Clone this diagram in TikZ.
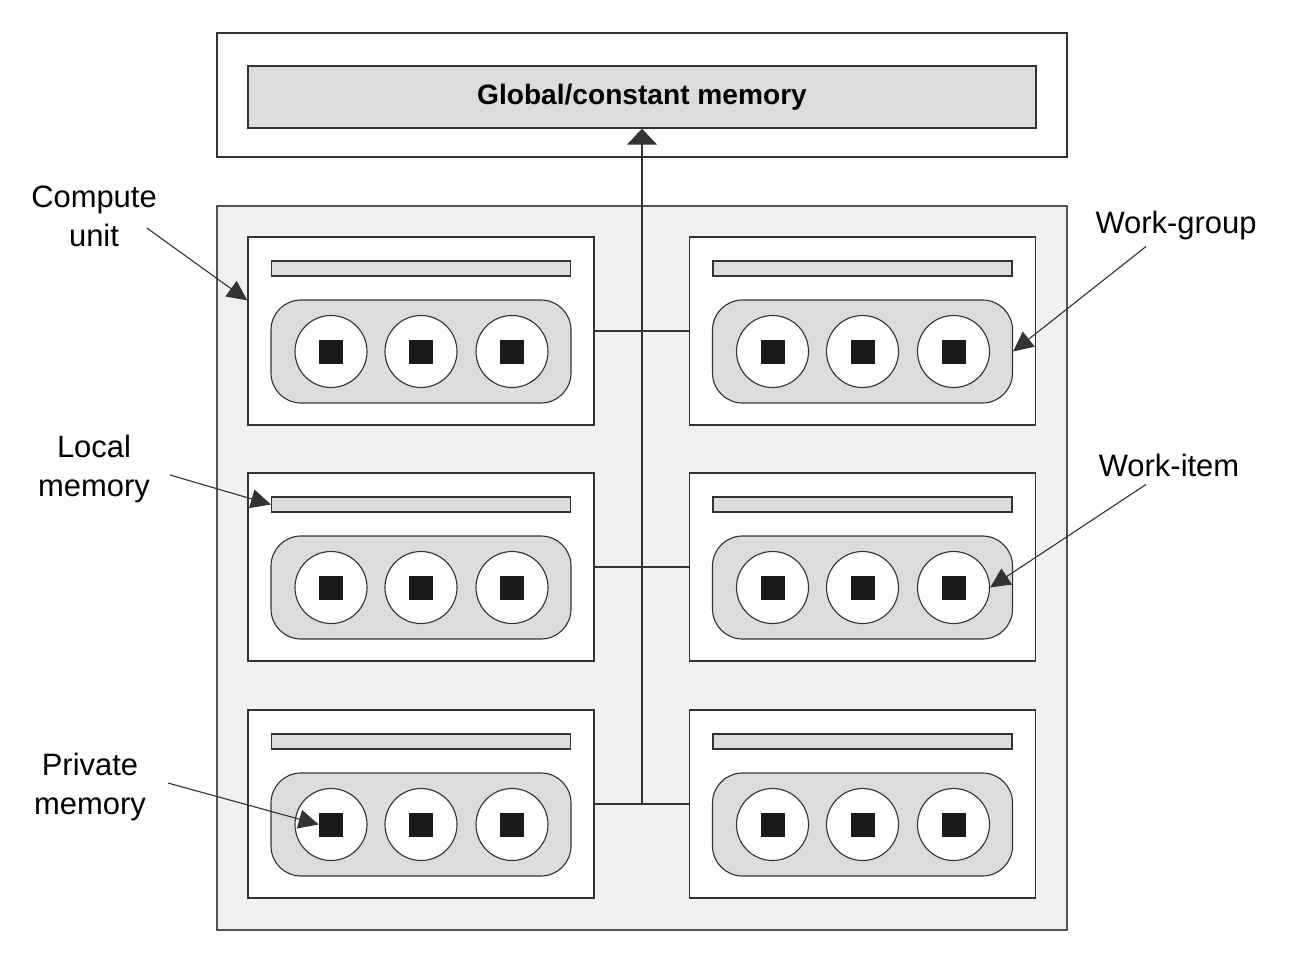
\documentclass[tikz,border=0pt]{standalone}
\usepackage{fontspec}
\setmainfont{Liberation Sans}
\usetikzlibrary{positioning, arrows.meta, calc}
\definecolor{edge}{HTML}{333333}
\definecolor{barfill}{HTML}{DCDCDE}
\definecolor{devfill}{HTML}{F1F1F1}

\begin{document}
\begin{tikzpicture}[x=0.25mm, y=-0.25mm,
  outer/.style={rectangle, draw=edge, line width=1pt, fill=white, minimum width=212.5mm, inner sep=0pt},
  device/.style={rectangle, draw=edge!85, line width=1pt, fill=devfill, minimum width=212.5mm, minimum height=181mm, inner sep=0pt},
  cu/.style={rectangle, draw=edge, line width=1pt, fill=white, minimum width=86.5mm, minimum height=47mm, inner sep=0pt},
  lmem/.style={rectangle, draw=edge, line width=0.8pt, fill=barfill, minimum width=74.75mm, minimum height=3.75mm, inner sep=0pt},
  wgroup/.style={rectangle, rounded corners=7.5mm, draw=edge, line width=0.8pt, fill=barfill, minimum width=75mm, minimum height=25.75mm, inner sep=0pt},
  witem/.style={circle, draw=edge, line width=0.8pt, fill=white, minimum size=18mm, inner sep=0pt},
  pmem/.style={rectangle, fill=black!90, minimum size=6mm, inner sep=0pt},
  lbl/.style={font=\fontsize{22}{27.7}\selectfont, align=center, inner sep=2pt},
  bus/.style={line width=1pt, draw=edge},
  ptr/.style={-{Triangle[length=5mm, width=4.75mm]}, line width=0.8pt, draw=edge}
]
\useasboundingbox (0,0) rectangle (1290,960);

% ===== Global memory =====
\node[outer, minimum height=31mm] (gbox) at (642,95) {};
\node[rectangle, draw=edge, line width=1pt, fill=barfill, minimum width=197mm, minimum height=15.5mm,
  font=\bfseries\fontsize{20}{24}\selectfont] (gmem) at (642,97) {Global/constant memory};

% ===== Device with compute units =====
\node[device] (dev) at (642,568) {};
\foreach \r/\y in {1/331, 2/567, 3/804}{
  \foreach \c/\x in {l/421, r/862.5}{
    \node[cu] (cu-\c\r) at (\x,\y) {};
    \node[lmem] (lm-\c\r) at (\x,\y-62.5) {};
    \node[wgroup] (wg-\c\r) at (\x,\y+20.5) {};
    \foreach \i/\dx in {1/-90, 2/0, 3/91}{
      \node[witem] (wi-\c\r-\i) at (\x+\dx,\y+20.5) {};
      \node[pmem] (pm-\c\r-\i) at (\x+\dx,\y+20.5) {};
    }
  }
}

% ===== Bus to global memory =====
\foreach \r in {1,2,3}{\draw[bus] (cu-l\r.east) -- (cu-r\r.west);}
\draw[bus, -{Triangle[length=4mm, width=7.5mm]}] (cu-l3.east -| gmem.south) -- (gmem.south);

% ===== Labels =====
\node[lbl] (lbl-cu) at (94,216) {Compute\\unit};
\node[lbl] (lbl-lm) at (94,469) {Local\\memory};
\node[lbl] (lbl-pm) at (90,787) {Private\\memory};
\node[lbl] (lbl-wg) at (1176,225) {Work-group};
\node[lbl] (lbl-wi) at (1169,465) {Work-item};

\draw[ptr] ([shift={(-13,12)}]lbl-cu.east) -- (cu-l1.170);
\draw[ptr] ([shift={(17,6)}]lbl-lm.east) -- (lm-l2.west);
\draw[ptr] ([shift={(19,-4)}]lbl-pm.east) -- (pm-l3-1.west);
\draw[ptr] ([shift={(-30,4)}]lbl-wg.south) -- (wg-r1.east);
\draw[ptr] ([shift={(-23,5)}]lbl-wi.south) -- (wi-r2-3.east);

\end{tikzpicture}
\end{document}
